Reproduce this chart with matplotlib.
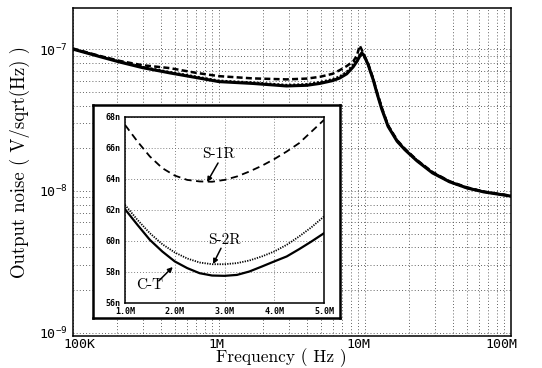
import numpy as np
import matplotlib.pyplot as plt
from matplotlib.ticker import NullFormatter
from matplotlib.transforms import ScaledTranslation

# main plot: frequency (Hz) and output noise (nV/sqrt(Hz))
freq = [1e5, 1.5e5, 2.1e5, 3e5, 4.6e5, 7e5, 1e6, 1.7e6, 2.9e6, 4e6, 4.9e6,
        6e6, 6.7e6, 7.5e6, 8.3e6, 8.8e6, 9.2e6, 9.5e6, 9.8e6, 1.05e7, 1.14e7,
        1.2e7, 1.3e7, 1.44e7, 1.66e7, 1.88e7, 2.27e7, 2.9e7, 3.8e7, 5e7,
        6.5e7, 1e8]
ct = [100, 89, 81, 74, 68, 63, 59, 57.3, 55, 55.6, 57.3,
      60, 62.5, 67, 75, 82, 89, 94, 91, 78, 60.5,
      50, 38, 28.5, 22.4, 19.5, 16.3, 13.4, 11.6, 10.5,
      9.85, 9.2]
s1r = [101, 90, 82.5, 77, 73.5, 68, 64.5, 62.2, 61.2, 62, 63.8,
       67, 71, 76, 82, 90, 106, 99, 92, 79, 61.5,
       51, 39, 29, 22.8, 19.8, 16.5, 13.6, 11.7, 10.6,
       9.9, 9.25]
s2r = [100.5, 89.5, 81.5, 74.8, 68.8, 63.8, 59.8, 58.1, 55.8, 56.5, 58.4,
       61.3, 64, 69, 77.5, 85, 91, 93, 90, 78, 61,
       50.5, 38.5, 28.8, 22.6, 19.6, 16.4, 13.5, 11.6, 10.5,
       9.9, 9.2]

# inset: frequency (MHz) and noise (nV/sqrt(Hz))
f_in = [1.0, 1.25, 1.5, 1.75, 2.0, 2.25, 2.5, 2.75, 3.0, 3.25, 3.5, 3.75,
        4.0, 4.25, 4.5, 4.75, 5.0]
s1r_in = [67.46, 66.39, 65.42, 64.67, 64.19, 63.91, 63.81, 63.79, 63.91,
          64.13, 64.45, 64.82, 65.25, 65.74, 66.28, 67.03, 67.78]
s2r_in = [62.3, 61.33, 60.47, 59.76, 59.23, 58.84, 58.58, 58.47, 58.47,
          58.54, 58.71, 58.97, 59.29, 59.72, 60.26, 60.86, 61.55]
ct_in = [62.02, 61.01, 60.04, 59.29, 58.65, 58.22, 57.89, 57.74, 57.72,
         57.78, 58.0, 58.32, 58.65, 58.97, 59.44, 59.94, 60.47]

W, H = 542, 368
mono = 'DejaVu Sans Mono'
serif = 'cmr10'

fig = plt.figure(figsize=(W / 100, H / 100), dpi=100)

# main axes
ax = fig.add_axes([73 / W, (H - 336) / H, 438 / W, 328 / H])
ax.plot(freq, np.array(ct) * 1e-9, color='k', lw=2.2)
ax.plot(freq, np.array(s1r) * 1e-9, color='k', lw=1.8, ls=(0, (2.4, 1.3)))
ax.plot(freq, np.array(s2r) * 1e-9, color='k', lw=1.8, ls=(0, (0.8, 0.8)))
ax.set_xscale('log')
ax.set_yscale('log')
ax.set_xlim(1e5, 1e8)
ax.set_ylim(0.95e-9, 1.95e-7)
ax.grid(True, which='both', ls=(0, (1, 2.5)), color='0.3', lw=0.65)
ax.tick_params(which='both', length=0)
ax.set_xticks([1e5, 1e6, 1e7, 1e8], labels=['100K', '1M', '10M', '100M'])
ax.set_yticks([1e-9, 1e-8, 1e-7],
              labels=[r'$\mathregular{10^{-9}}$', r'$\mathregular{10^{-8}}$',
                      r'$\mathregular{10^{-7}}$'])
ax.xaxis.set_minor_formatter(NullFormatter())
ax.yaxis.set_minor_formatter(NullFormatter())
for lab in ax.get_xticklabels() + ax.get_yticklabels():
    lab.set_fontfamily(mono)
    lab.set_fontsize(9.5)
ax.tick_params(axis='x', pad=1.5)
ax.tick_params(axis='y', pad=4)
# the original's x labels sit a little off their ticks
for lab, dx in zip(ax.get_xticklabels(), [6, -3, -7, -10]):
    lab.set_transform(lab.get_transform()
                      + ScaledTranslation(dx / 100, 0, fig.dpi_scale_trans))
for s in ax.spines.values():
    s.set_linewidth(1.1)
ax.set_xlabel('Frequency ( Hz )', fontfamily=serif, fontsize=12.5)
ax.xaxis.set_label_coords(0.475, -0.038)
ax.set_ylabel('Output noise ( V/sqrt(Hz) )', fontfamily=serif, fontsize=13.5)
ax.yaxis.set_label_coords(-0.098, 0.53)

# white panel behind the inset
box = fig.add_axes([93 / W, (H - 318) / H, 247 / W, 213 / H])
box.set_xticks([])
box.set_yticks([])
box.set_facecolor('white')
for s in box.spines.values():
    s.set_linewidth(1.8)

# inset axes
ins = fig.add_axes([125 / W, (H - 302.5) / H, 199 / W, 186 / H])
ins.plot(f_in, s1r_in, color='k', lw=1.3, ls=(0, (4, 2.5)))
ins.plot(f_in, s2r_in, color='k', lw=1.3, ls=(0, (0.7, 0.7)))
ins.plot(f_in, ct_in, color='k', lw=1.6)
ins.set_xlim(1.0, 5.0)
ins.set_ylim(56, 68)
ins.set_xticks([1, 2, 3, 4, 5], labels=['1.0M', '2.0M', '3.0M', '4.0M', '5.0M'])
ins.set_yticks(range(56, 69, 2), labels=[f'{v}n' for v in range(56, 69, 2)])
ins.grid(True, ls=(0, (1, 2.5)), color='0.35', lw=0.6)
ins.tick_params(length=0, labelsize=6, pad=3)
for lab in ins.get_xticklabels() + ins.get_yticklabels():
    lab.set_fontfamily(mono)
    lab.set_fontweight('bold')
for s in ins.spines.values():
    s.set_linewidth(1.1)

arrow = dict(arrowstyle='-|>', color='k', lw=1.1, mutation_scale=7,
             shrinkA=0, shrinkB=0)
ins.annotate('', xy=(2.65, 63.77), xytext=(2.87, 65.0), arrowprops=arrow)
ins.text(2.87, 65.55, 'S-1R', fontfamily=serif, fontsize=11,
         ha='center', va='center')
ins.annotate('', xy=(2.77, 58.48), xytext=(2.93, 59.5), arrowprops=arrow)
ins.text(3.0, 60.05, 'S-2R', fontfamily=serif, fontsize=11,
         ha='center', va='center')
ins.annotate('', xy=(1.96, 58.29), xytext=(1.68, 57.4), arrowprops=arrow)
ins.text(1.5, 57.13, 'C-T', fontfamily=serif, fontsize=11,
         ha='center', va='center')

fig.savefig('out.png', dpi=100)
